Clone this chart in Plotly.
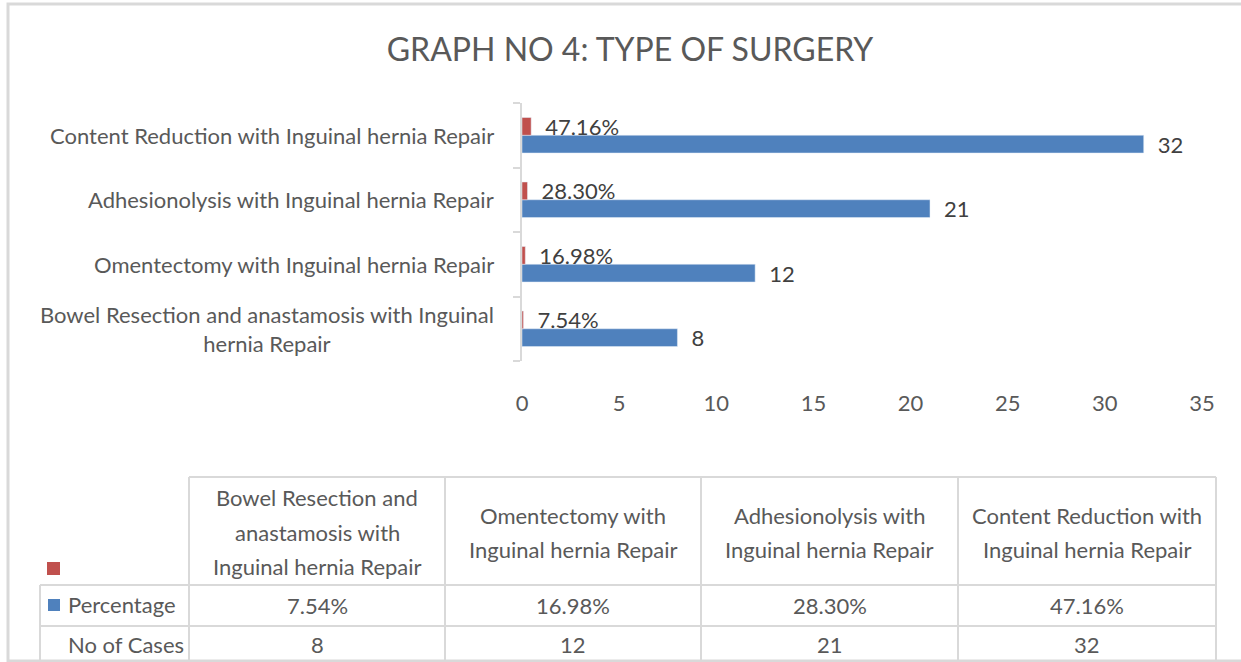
import plotly.graph_objects as go

# Datos del gráfico
categorias = [
    "Bowel Resection and anastamosis with Inguinal hernia Repair",
    "Omentectomy with Inguinal hernia Repair",
    "Adhesionolysis with Inguinal hernia Repair",
    "Content Reduction with Inguinal hernia Repair",
]
etiquetas_eje = [
    "Bowel Resection and anastamosis with Inguinal<br>hernia Repair",
    "Omentectomy with Inguinal hernia Repair",
    "Adhesionolysis with Inguinal hernia Repair",
    "Content Reduction with Inguinal hernia Repair",
]
encabezado_tabla = [
    "Bowel Resection and<br>anastamosis with<br>Inguinal hernia Repair",
    "Omentectomy with<br>Inguinal hernia Repair",
    "Adhesionolysis with<br>Inguinal hernia Repair",
    "Content Reduction with<br>Inguinal hernia Repair",
]
num_casos = [8, 12, 21, 32]
porcentaje = [0.0754, 0.1698, 0.2830, 0.4716]
series = ["Percentage", "No of Cases"]
ticks_x = [0, 5, 10, 15, 20, 25, 30, 35]

W, H = 1241, 662
AZUL = "#4F81BD"
ROJO = "#C0504D"
GRIS = "#595959"
LINEA = "#D9D9D9"
FUENTE = "Lato"
TAM = 22


def px(x):
    return x / W


def py(y):
    return 1 - y / H


fig = go.Figure()
fig.add_trace(go.Bar(
    y=categorias, x=num_casos, orientation="h", name=series[1],
    marker_color=AZUL, texttemplate="\u2002%{x}", textposition="outside",
    textfont=dict(size=TAM, color="#404040", family=FUENTE),
    constraintext="none", cliponaxis=False, hoverinfo="skip",
))
fig.add_trace(go.Bar(
    y=categorias, x=porcentaje, orientation="h", name=series[0],
    marker_color=ROJO, texttemplate="\u2002%{x:.2%}", textposition="outside",
    textfont=dict(size=TAM, color="#404040", family=FUENTE),
    constraintext="none", cliponaxis=False, hoverinfo="skip",
))

fig.update_layout(
    width=W, height=H,
    margin=dict(l=0, r=0, t=0, b=0, pad=0, autoexpand=False),
    paper_bgcolor="white", plot_bgcolor="white",
    barmode="group", bargap=0.45, bargroupgap=0,
    showlegend=False,
    font=dict(family=FUENTE, color=GRIS, size=TAM),
    title=dict(text="GRAPH NO 4: TYPE OF SURGERY", x=px(630), xanchor="center",
               y=py(50), yanchor="middle",
               font=dict(size=32, color=GRIS, family=FUENTE)),
    xaxis=dict(domain=[px(522), px(1202)], range=[0, 35], tickvals=ticks_x,
               showgrid=False, zeroline=False, showline=False, ticks="", automargin=False,
               ticklabelstandoff=27, tickfont=dict(size=TAM, color=GRIS)),
    yaxis=dict(domain=[py(361), py(103)], categoryorder="array", categoryarray=categorias,
               showgrid=False, zeroline=False, showline=True, linecolor=LINEA, linewidth=2,
               ticks="outside", tickson="boundaries", ticklen=7, tickcolor=LINEA, tickwidth=2,
               showticklabels=False, automargin=False),
)

# Etiquetas de categorías
for cat, txt in zip(categorias, etiquetas_eje):
    fig.add_annotation(x=px(496), xref="paper", y=cat, yref="y", text=txt,
                       xanchor="right", yanchor="middle", align="center", showarrow=False,
                       font=dict(size=TAM, color=GRIS, family=FUENTE))

# Marco exterior
fig.add_shape(type="rect", xref="paper", yref="paper", x0=px(8), x1=px(1250), y0=py(661), y1=py(4),
              line=dict(color=LINEA, width=3))

# Tabla de datos
cols = [189, 445, 701, 958, 1216]
filas = [477, 585, 626, 661]
fig.add_shape(type="line", xref="paper", yref="paper", x0=px(cols[0]), x1=px(cols[-1]), y0=py(477), y1=py(477),
              line=dict(color=LINEA, width=2))
for yy in filas[1:]:
    fig.add_shape(type="line", xref="paper", yref="paper", x0=px(40), x1=px(cols[-1]), y0=py(yy), y1=py(yy),
                  line=dict(color=LINEA, width=2))
fig.add_shape(type="line", xref="paper", yref="paper", x0=px(40), x1=px(40), y0=py(585), y1=py(661),
              line=dict(color=LINEA, width=2))
for xx in cols:
    fig.add_shape(type="line", xref="paper", yref="paper", x0=px(xx), x1=px(xx), y0=py(477), y1=py(661),
                  line=dict(color=LINEA, width=2))

for i in range(len(categorias)):
    xc = (cols[i] + cols[i + 1]) / 2
    lineas = encabezado_tabla[i].split("<br>")
    y0 = 532 - (len(lineas) - 1) * 17
    for j, ln in enumerate(lineas):
        fig.add_annotation(x=px(xc), y=py(y0 + 34 * j), xref="paper", yref="paper", text=ln,
                           showarrow=False, xanchor="center", yanchor="middle",
                           font=dict(size=TAM, color=GRIS, family=FUENTE))
    fig.add_annotation(x=px(xc), y=py(605), xref="paper", yref="paper", text=f"{porcentaje[i]:.2%}",
                       showarrow=False, xanchor="center", yanchor="middle",
                       font=dict(size=TAM, color=GRIS, family=FUENTE))
    fig.add_annotation(x=px(xc), y=py(644), xref="paper", yref="paper", text=str(num_casos[i]),
                       showarrow=False, xanchor="center", yanchor="middle",
                       font=dict(size=TAM, color=GRIS, family=FUENTE))

# Nombres de filas y claves de leyenda
fig.add_annotation(x=px(66), y=py(604), xref="paper", yref="paper", text=series[0],
                   showarrow=False, xanchor="left", yanchor="middle",
                   font=dict(size=TAM, color=GRIS, family=FUENTE))
fig.add_annotation(x=px(66), y=py(644), xref="paper", yref="paper", text=series[1],
                   showarrow=False, xanchor="left", yanchor="middle",
                   font=dict(size=TAM, color=GRIS, family=FUENTE))
fig.add_shape(type="rect", xref="paper", yref="paper", x0=px(47), x1=px(60), y0=py(575), y1=py(562),
              fillcolor=ROJO, line=dict(width=0))
fig.add_shape(type="rect", xref="paper", yref="paper", x0=px(48), x1=px(60), y0=py(611), y1=py(599),
              fillcolor=AZUL, line=dict(width=0))

# quitar el margen por defecto del body para que el gráfico ocupe la ventana
fig.write_html("out.html", config={"displayModeBar": False},
               post_script="document.body.style.margin='0';")
